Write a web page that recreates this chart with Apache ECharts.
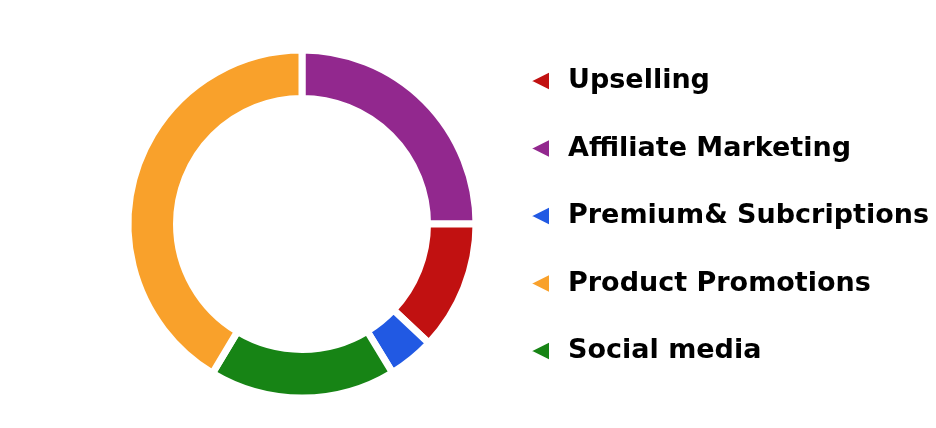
<!DOCTYPE html>
<html>
<head>
<meta charset="utf-8">
<script src="https://cdn.jsdelivr.net/npm/echarts@6/dist/echarts.min.js"></script>
<style>html,body{margin:0;padding:0;background:#fff;}#c{width:936px;height:428px;}</style>
</head>
<body>
<div id="c"></div>
<script>
// Pie order (clockwise from top)
const categories = ['Affiliate Marketing', 'Upselling', 'Premium& Subcriptions', 'Social media', 'Product Promotions'];
const values = [25, 12, 4.3, 17.3, 41.4];
const colors = ['#92288E', '#C11111', '#2159E3', '#178415', '#F9A12B'];
// Legend order
const legendOrder = ['Upselling', 'Affiliate Marketing', 'Premium& Subcriptions', 'Product Promotions', 'Social media'];

const chart = echarts.init(document.getElementById('c'), null, {renderer: 'canvas'});
chart.setOption({
  animation: false,
  legend: {
    orient: 'vertical',
    left: 529,
    top: 67,
    padding: 0,
    data: legendOrder,
    icon: 'path://M10,0 L10,10 L0,5 Z',
    itemWidth: 20,
    itemHeight: 20,
    itemGap: 39.5,
    textStyle: {
      fontFamily: 'DejaVu Sans',
      fontWeight: 'bold',
      fontSize: 27,
      lineHeight: 28,
      color: '#000',
      padding: [0, 0, 0, 13]
    }
  },
  series: [{
    type: 'pie',
    center: [302, 224],
    radius: [125.5, 174],
    startAngle: 90,
    clockwise: true,
    label: {show: false},
    labelLine: {show: false},
    itemStyle: {borderColor: '#fff', borderWidth: 7},
    data: categories.map((n, i) => ({name: n, value: values[i], itemStyle: {color: colors[i]}}))
  }]
});
</script>
</body>
</html>
